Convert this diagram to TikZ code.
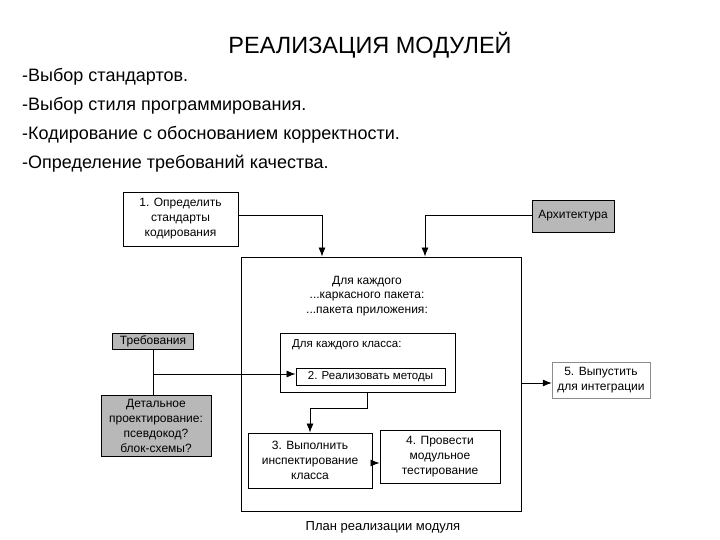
\documentclass[tikz,border=0pt]{standalone}
\usepackage{fontspec}
\setmainfont{Liberation Sans}
\usetikzlibrary{arrows.meta}
\begin{document}
\begin{tikzpicture}[x=1pt,y=-1pt,
  box/.style={draw=black,line width=0.9pt,inner sep=0pt,align=center,font=\fontsize{12}{15}\selectfont},
  graybox/.style={box,fill=black!28},
  lbl/.style={inner sep=0pt,align=center,font=\fontsize{12}{14.5}\selectfont},
  conn/.style={line width=0.8pt,-{Latex[length=9pt,width=7pt]}},
  line/.style={line width=0.8pt}]
\useasboundingbox (0,0) rectangle (720,540);
\node[font=\fontsize{23.5}{26}\selectfont] (title) at (370,45) {РЕАЛИЗАЦИЯ МОДУЛЕЙ};
\node[anchor=west,inner sep=0pt,align=left,font=\fontsize{18}{29}\selectfont] (list) at (22,120)
 {-Выбор стандартов.\\-Выбор стиля программирования.\\-Кодирование с обоснованием корректности.\\-Определение требований качества.};
% boxes
\node[box,minimum width=115pt,minimum height=54pt] (b1) at (180.5,219) {1. Определить\\стандарты\\кодирования};
\node[graybox,minimum width=82pt,minimum height=32pt] (arch) at (573,216) {Архитектура};
\node[box,minimum width=280pt,minimum height=254pt] (outer) at (381,384) {};
\node[lbl] (otxt) at (367,296) {Для каждого\\...каркасного пакета:\\...пакета приложения:};
\node[box,minimum width=175pt,minimum height=59pt] (cls) at (367.5,362.5) {};
\node[lbl,anchor=west,font=\fontsize{11.5}{14}\selectfont] (clstxt) at (292,345) {Для каждого класса:};
\node[box,minimum width=149pt,minimum height=17pt,font=\fontsize{11.5}{14}\selectfont] (b2) at (370.5,376.5) {2. Реализовать методы};
\node[box,minimum width=124pt,minimum height=55pt] (b3) at (310,460.5) {3. Выполнить\\инспектирование\\класса};
\node[box,minimum width=120pt,minimum height=53pt] (b4) at (440,456.5) {4. Провести\\модульное\\тестирование};
\node[box,draw=black!45,line width=0.5pt,minimum width=98pt,minimum height=36pt] (b5) at (601,380) {5. Выпустить\\для интеграции};
\node[graybox,minimum width=81pt,minimum height=16pt] (req) at (153,341) {Требования};
\node[graybox,minimum width=110pt,minimum height=61pt] (det) at (156,425.5) {Детальное\\проектирование:\\псевдокод?\\блок-схемы?};
\node[lbl,font=\fontsize{13}{15}\selectfont] (cap) at (383,527) {План реализации модуля};
% connectors
\coordinate (c1) at (322,215);
\coordinate (c2) at (425,215);
\draw[conn] (b1.east |- c1) -- (c1) -- (c1 |- outer.north);
\draw[conn] (arch.west |- c2) -- (c2) -- (c2 |- outer.north);
\draw[line] (req.south) -- (req.south |- det.north);
\coordinate (br) at (153,374);
\draw[conn] (br) -- (b2.west |- br);
\coordinate (e1) at (367.5,408);
\draw[conn] (cls.south) -- (e1) -| (b3.north);
\draw[conn] (b3.east |- 0,463) -- (b4.west |- 0,463);
\draw[conn] (outer.east |- 0,383) -- (b5.west |- 0,383);
\end{tikzpicture}
\end{document}
